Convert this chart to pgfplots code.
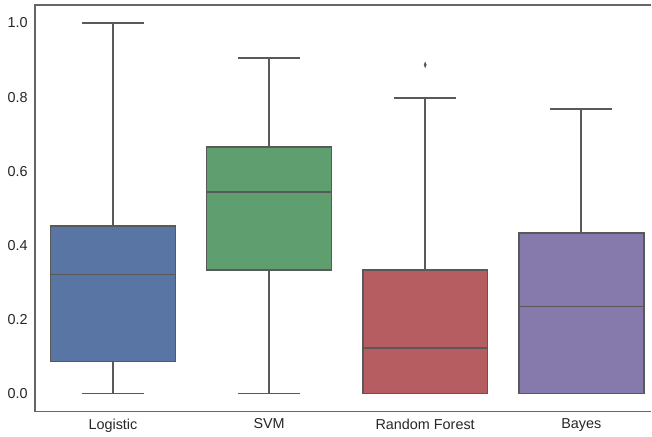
\documentclass[border=0pt]{standalone}
\usepackage{pgfplots}
\pgfplotsset{compat=1.18}
\usepgfplotslibrary{statistics}
\usepackage{fontspec}
\setmainfont{Liberation Sans}
\definecolor{lc}{HTML}{595959}
\definecolor{ac}{HTML}{666666}
\definecolor{tc}{HTML}{262626}
\definecolor{c1}{HTML}{5875A4}
\definecolor{c2}{HTML}{5F9E6E}
\definecolor{c3}{HTML}{B55D60}
\definecolor{c4}{HTML}{857AAB}
\begin{document}
\begin{tikzpicture}
\begin{axis}[
  name=ax,
  scale only axis,
  width=462.75pt, height=305.25pt,
  xmin=-0.5, xmax=3.449,
  ymin=-0.0485, ymax=1.0485,
  boxplot/draw direction=y,
  boxplot/every whisker/.style={draw=lc, line width=1.25pt},
  boxplot/every median/.style={draw=lc, line width=1.25pt},
  axis line style={draw=none},
  major tick length=0pt,
  xtick={0,1,2,3},
  xticklabels={Logistic,SVM,Random Forest,Bayes},
  ytick={0,0.2,0.4,0.6,0.8,1.0},
  /pgf/number format/assume math mode=true,
  tick label style={font=\fontsize{10.8pt}{12pt}\selectfont, text=tc},
  xticklabel style={yshift=-2pt},
  yticklabel style={xshift=-2pt, /pgf/number format/.cd, fixed, fixed zerofill, precision=1},
  clip=false,
]
\addplot[boxplot prepared={lower whisker=0, lower quartile=0.087, median=0.321, upper quartile=0.453, upper whisker=1.0, draw position=0, box extend=0.8, whisker extend=0.4}, draw=lc, line width=1.25pt, boxplot/every box/.style={draw=lc, line width=1.25pt, fill=c1}] coordinates {};
\addplot[boxplot prepared={lower whisker=0, lower quartile=0.334, median=0.544, upper quartile=0.666, upper whisker=0.906, draw position=1, box extend=0.8, whisker extend=0.4}, draw=lc, line width=1.25pt, boxplot/every box/.style={draw=lc, line width=1.25pt, fill=c2}] coordinates {};
\addplot[boxplot prepared={lower whisker=0, lower quartile=0, median=0.123, upper quartile=0.334, upper whisker=0.798, draw position=2, box extend=0.8, whisker extend=0.4}, draw=lc, line width=1.25pt, boxplot/every box/.style={draw=lc, line width=1.25pt, fill=c3}, mark=diamond*, mark size=2pt, mark options={draw=lc, fill=lc, line width=0.3pt, xscale=0.6}] coordinates {(2,0.887)};
\addplot[boxplot prepared={lower whisker=0, lower quartile=0, median=0.235, upper quartile=0.434, upper whisker=0.768, draw position=3, box extend=0.8, whisker extend=0.4}, draw=lc, line width=1.25pt, boxplot/every box/.style={draw=lc, line width=1.25pt, fill=c4}] coordinates {};
\draw[ac, line width=1pt] (rel axis cs:1,1) -- (rel axis cs:0,1) -- (rel axis cs:0,0) -- (rel axis cs:1,0);
\end{axis}
\path ([xshift=-26.25pt,yshift=-15.75pt]ax.south west) rectangle ([yshift=3.75pt]ax.north east);
\end{tikzpicture}
\end{document}
